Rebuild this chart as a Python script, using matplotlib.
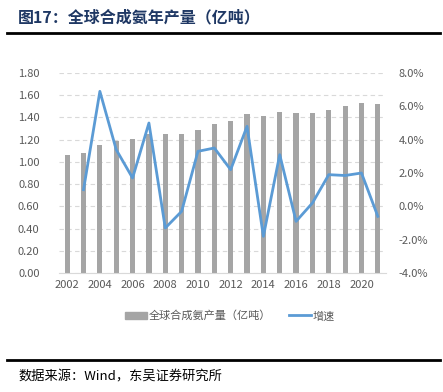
import numpy as np
import matplotlib.pyplot as plt
from matplotlib.lines import Line2D
from matplotlib.patches import Patch
from matplotlib.ticker import FuncFormatter

plt.rcParams['font.family'] = ['Noto Sans CJK SC', 'DejaVu Sans']

# data
years = list(range(2002, 2022))
output = [1.06, 1.08, 1.15, 1.19, 1.21, 1.25, 1.25, 1.25, 1.29, 1.34,
          1.37, 1.43, 1.41, 1.45, 1.44, 1.44, 1.47, 1.50, 1.53, 1.52]
growth = [np.nan, 1.0, 6.9, 3.4, 1.7, 5.0, -1.3, -0.3, 3.3, 3.5,
          2.2, 4.8, -1.8, 3.1, -0.9, 0.2, 1.9, 1.85, 2.0, -0.6]
xlabels = [str(y) if y % 2 == 0 else '' for y in years]

W, H = 443, 392
fig = plt.figure(figsize=(W / 100, H / 100), dpi=100)

# plot area in pixels: x 59..386, y 73..273
ax = fig.add_axes([59 / W, 1 - 273 / H, (386 - 59) / W, (273 - 73) / H])
ax2 = ax.twinx()

x = np.arange(len(years))
ax.bar(x, output, width=0.32, color='#A5A5A5', zorder=2)
ax2.plot(x, growth, color='#5B9BD5', lw=2.0, zorder=3)

ax.set_xlim(-0.5, len(years) - 0.5)
ax.set_ylim(0, 1.8)
ax.set_yticks(np.arange(0, 1.81, 0.2))
ax.yaxis.set_major_formatter(FuncFormatter(lambda v, p: f'{v:.2f}'))
ax2.set_ylim(-4, 8)
ax2.set_yticks(np.arange(-4, 8.1, 2))
ax2.yaxis.set_major_formatter(FuncFormatter(lambda v, p: f'{v:.1f}%'))
ax.set_xticks(x)
ax.set_xticklabels(xlabels)

ax.grid(axis='y', color='#D9D9D9', ls=(0, (4, 3)), lw=0.8, zorder=0)
ax.set_axisbelow(True)
for a in (ax, ax2):
    for s in a.spines.values():
        s.set_visible(False)
    a.tick_params(length=0, labelsize=8, colors='#595959')
ax.spines['bottom'].set_visible(True)
ax.spines['bottom'].set_color('#D9D9D9')
ax.tick_params(axis='y', pad=14)
ax2.tick_params(axis='y', pad=9)
ax.tick_params(axis='x', pad=5)

handles = [Patch(color='#A5A5A5'), Line2D([], [], color='#5B9BD5', lw=2.0)]
fig.legend(handles, ['全球合成氨产量（亿吨）', '增速'], loc='center',
           bbox_to_anchor=(230 / W, 1 - 316 / H), ncol=2, frameon=False,
           fontsize=8, handlelength=2.0, handleheight=0.7, handletextpad=0.15,
           columnspacing=1.6, labelcolor='#595959')

# title, rules and source
fig.text(18 / W, 1 - 17 / H, '图17：全球合成氨年产量（亿吨）', fontsize=11.5,
         fontweight='bold', color='#1F3864', va='center')
fig.add_artist(Line2D([7 / W, 440 / W], [1 - 33 / H] * 2, color='black', lw=2))
fig.add_artist(Line2D([7 / W, 440 / W], [1 - 360 / H] * 2, color='black', lw=2))
fig.text(18 / W, 1 - 377 / H, '数据来源：Wind，东吴证券研究所', fontsize=9.5,
         color='black', va='center')

fig.savefig('out.png', dpi=100)
